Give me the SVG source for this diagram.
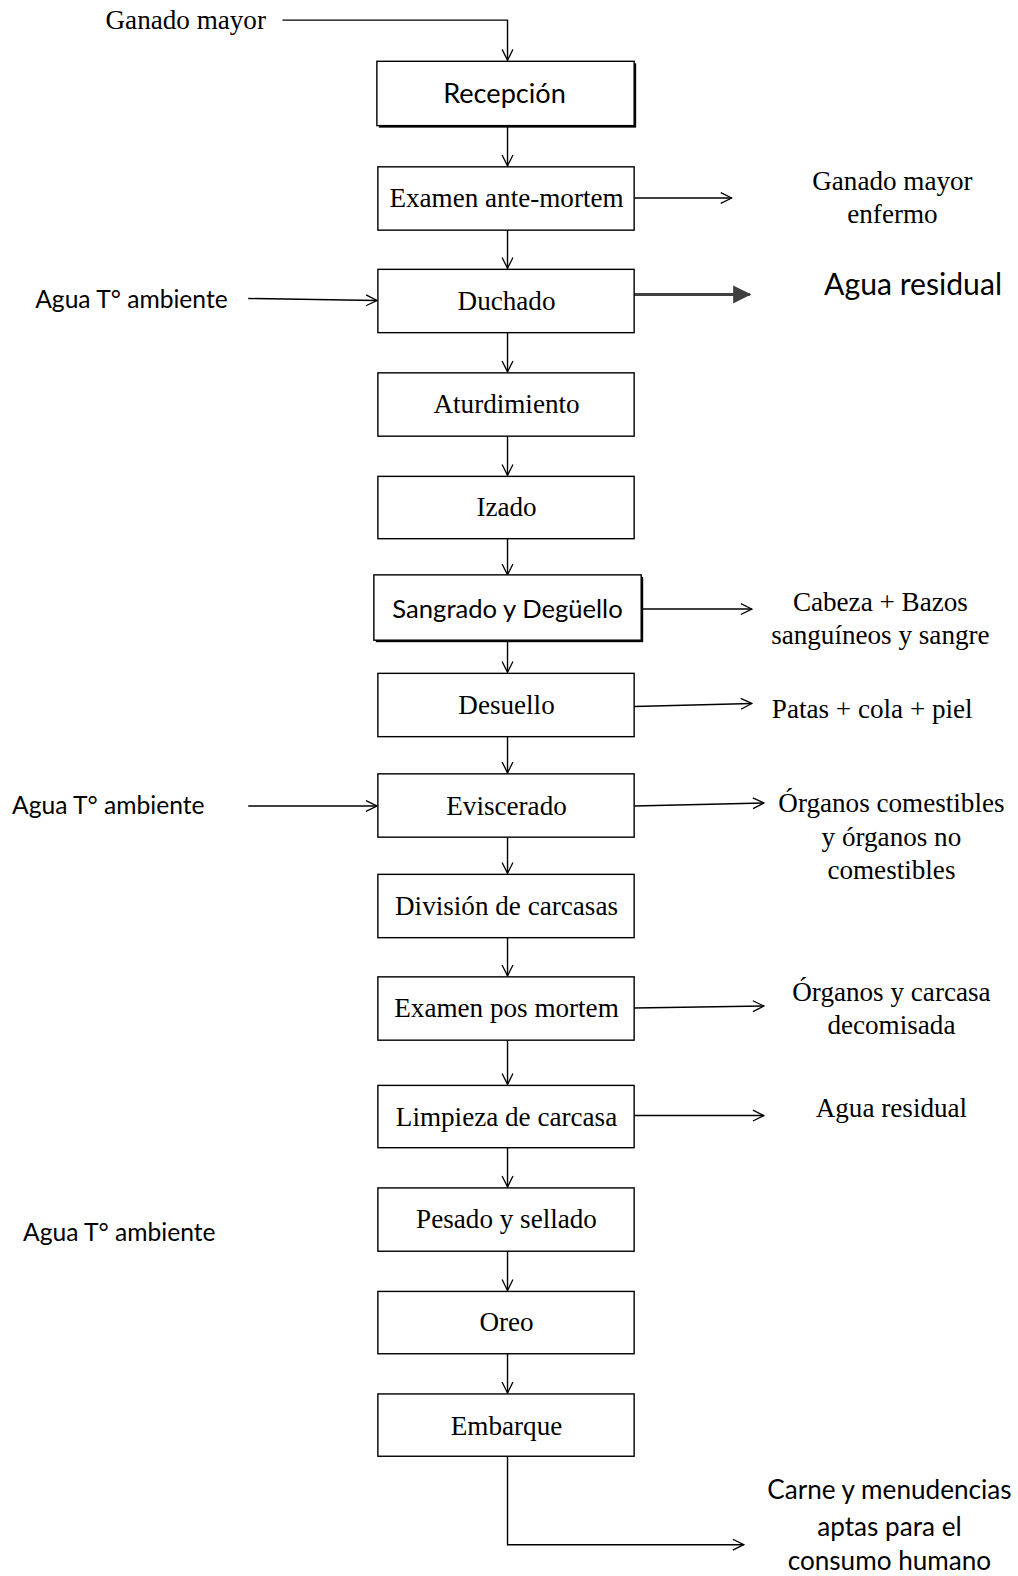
<svg xmlns="http://www.w3.org/2000/svg" width="1018" height="1576" viewBox="0 0 1018 1576">
  <style>
    .box { fill: #fff; stroke: #000; stroke-width: 1.4; }
    .shadow { fill: #000; }
    .serif { font-family: "Liberation Serif", "Times New Roman", serif; font-size: 27px; fill: #000; }
    .sans { font-family: Lato, "Open Sans", sans-serif; font-size: 24.5px; fill: #000; }
    .c { text-anchor: middle; }
    .edge { fill: none; stroke: #000; stroke-width: 1.4; }
    .thick { fill: none; stroke: #404040; stroke-width: 3; }
  </style>
  <defs>
    <marker id="open" viewBox="0 0 12 12" refX="11" refY="6" markerWidth="13" markerHeight="13" markerUnits="userSpaceOnUse" orient="auto">
      <path d="M1,1 L11,6 L1,11" fill="none" stroke="#000" stroke-width="1.2"/>
    </marker>
    <marker id="solid" viewBox="0 0 12 12" refX="11" refY="6" markerWidth="18" markerHeight="18" markerUnits="userSpaceOnUse" orient="auto">
      <path d="M0,0 L12,6 L0,12 Z" fill="#404040"/>
    </marker>
  </defs>
  <rect width="1018" height="1576" fill="#fff"/>
  <g transform="scale(1.005)">
    <g id="connectors">
      <path class="edge" d="M281,20 H505 V60" marker-end="url(#open)"/>
      <path class="edge" d="M505,126 V165" marker-end="url(#open)"/>
      <path class="edge" d="M505,229 V267" marker-end="url(#open)"/>
      <path class="edge" d="M505,331 V370" marker-end="url(#open)"/>
      <path class="edge" d="M505,434 V473" marker-end="url(#open)"/>
      <path class="edge" d="M505,536 V572" marker-end="url(#open)"/>
      <path class="edge" d="M505,638 V669" marker-end="url(#open)"/>
      <path class="edge" d="M505,733 V769" marker-end="url(#open)"/>
      <path class="edge" d="M505,833 V869" marker-end="url(#open)"/>
      <path class="edge" d="M505,933 V971" marker-end="url(#open)"/>
      <path class="edge" d="M505,1035 V1079" marker-end="url(#open)"/>
      <path class="edge" d="M505,1142 V1181" marker-end="url(#open)"/>
      <path class="edge" d="M505,1245 V1284" marker-end="url(#open)"/>
      <path class="edge" d="M505,1347 V1386" marker-end="url(#open)"/>
      <path class="edge" d="M505,1449 V1537 H740" marker-end="url(#open)"/>
      <path class="edge" d="M631,197 H728" marker-end="url(#open)"/>
      <path class="edge" d="M247,297 L375,299" marker-end="url(#open)"/>
      <path class="thick" d="M631,293 H746" marker-end="url(#solid)"/>
      <path class="edge" d="M638,606 H748" marker-end="url(#open)"/>
      <path class="edge" d="M631,703 L748,700" marker-end="url(#open)"/>
      <path class="edge" d="M247,802 L375,802" marker-end="url(#open)"/>
      <path class="edge" d="M631,802 L760,799" marker-end="url(#open)"/>
      <path class="edge" d="M631,1003 L760,1001" marker-end="url(#open)"/>
      <path class="edge" d="M631,1110 H760" marker-end="url(#open)"/>
    </g>

    <g id="recepcion">
      <rect class="shadow" x="377" y="63" width="256" height="64"/>
      <rect class="box" x="375" y="61" width="256" height="64"/>
      <text class="sans c" x="502" y="102" style="font-size:27px">Recepción</text>
    </g>
    <g id="examen-ante-mortem">
      <rect class="box" x="376" y="166" width="255" height="63"/>
      <text class="serif c" x="504" y="206">Examen ante-mortem</text>
    </g>
    <g id="duchado">
      <rect class="box" x="376" y="268" width="255" height="63"/>
      <text class="serif c" x="504" y="308">Duchado</text>
    </g>
    <g id="aturdimiento">
      <rect class="box" x="376" y="371" width="255" height="63"/>
      <text class="serif c" x="504" y="411">Aturdimiento</text>
    </g>
    <g id="izado">
      <rect class="box" x="376" y="474" width="255" height="62"/>
      <text class="serif c" x="504" y="513">Izado</text>
    </g>
    <g id="sangrado">
      <rect class="shadow" x="374" y="574" width="266" height="65"/>
      <rect class="box" x="372" y="572" width="266" height="65"/>
      <text class="sans c" x="505" y="615" style="font-size:25.5px">Sangrado y Degüello</text>
    </g>
    <g id="desuello">
      <rect class="box" x="376" y="670" width="255" height="63"/>
      <text class="serif c" x="504" y="710">Desuello</text>
    </g>
    <g id="eviscerado">
      <rect class="box" x="376" y="770" width="255" height="63"/>
      <text class="serif c" x="504" y="811">Eviscerado</text>
    </g>
    <g id="division">
      <rect class="box" x="376" y="870" width="255" height="63"/>
      <text class="serif c" x="504" y="910">División de carcasas</text>
    </g>
    <g id="examen-pos-mortem">
      <rect class="box" x="376" y="972" width="255" height="63"/>
      <text class="serif c" x="504" y="1012">Examen pos mortem</text>
    </g>
    <g id="limpieza">
      <rect class="box" x="376" y="1080" width="255" height="62"/>
      <text class="serif c" x="504" y="1120">Limpieza de carcasa</text>
    </g>
    <g id="pesado">
      <rect class="box" x="376" y="1182" width="255" height="63"/>
      <text class="serif c" x="504" y="1222">Pesado y sellado</text>
    </g>
    <g id="oreo">
      <rect class="box" x="376" y="1285" width="255" height="62"/>
      <text class="serif c" x="504" y="1324">Oreo</text>
    </g>
    <g id="embarque">
      <rect class="box" x="376" y="1387" width="255" height="62"/>
      <text class="serif c" x="504" y="1428">Embarque</text>
    </g>

    <g id="labels">
      <text class="serif" x="105" y="29">Ganado mayor</text>
      <text class="serif c" x="888" y="189">Ganado mayor</text>
      <text class="serif c" x="888" y="222">enfermo</text>
      <text class="sans" x="35" y="306">Agua T° ambiente</text>
      <text class="sans" x="820" y="294" style="font-size:30px">Agua residual</text>
      <text class="serif c" x="876" y="608">Cabeza + Bazos</text>
      <text class="serif c" x="876" y="641">sanguíneos y sangre</text>
      <text class="serif" x="768" y="714">Patas + cola + piel</text>
      <text class="sans" x="12" y="810">Agua T° ambiente</text>
      <text class="serif c" x="887" y="808">Órganos comestibles</text>
      <text class="serif c" x="887" y="842">y órganos no</text>
      <text class="serif c" x="887" y="875">comestibles</text>
      <text class="serif c" x="887" y="996">Órganos y carcasa</text>
      <text class="serif c" x="887" y="1029">decomisada</text>
      <text class="serif c" x="887" y="1111">Agua residual</text>
      <text class="sans" x="23" y="1235">Agua T° ambiente</text>
      <text class="sans c" x="885" y="1492" style="font-size:26px">Carne y menudencias</text>
      <text class="sans c" x="885" y="1528" style="font-size:26px">aptas para el</text>
      <text class="sans c" x="885" y="1562" style="font-size:26px">consumo humano</text>
    </g>
  </g>
</svg>
